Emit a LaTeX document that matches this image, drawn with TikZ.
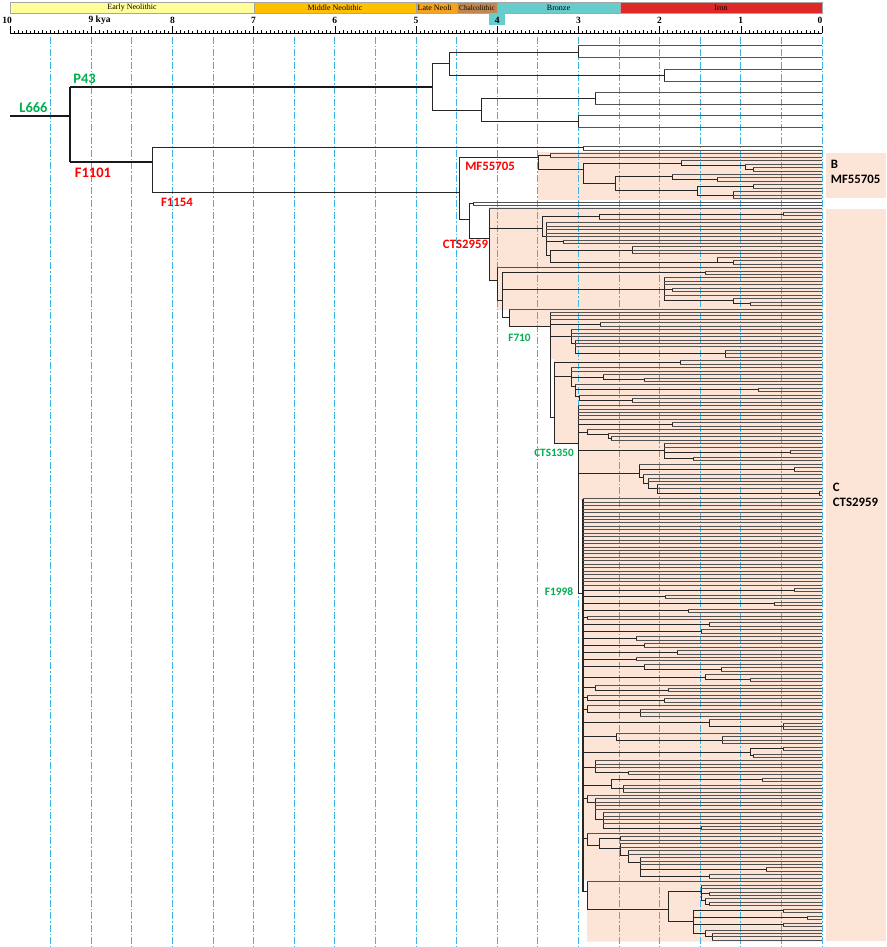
\documentclass[tikz,border=0pt]{standalone}
\usepackage{fontspec}
\setmainfont{Liberation Serif}
\newfontfamily\lab{Carlito}

\definecolor{eraEarly}{HTML}{FFFF99}
\definecolor{eraMiddle}{HTML}{FFC000}
\definecolor{eraLate}{HTML}{F5A31E}
\definecolor{eraChalco}{HTML}{C08850}
\definecolor{eraBronze}{HTML}{66CCCC}
\definecolor{eraIron}{HTML}{E02828}
\definecolor{peach}{HTML}{FCE4D6}
\definecolor{kyablue}{HTML}{3CB4E6}
\definecolor{snpgreen}{HTML}{00B050}
\definecolor{snpred}{HTML}{FF0000}

\tikzset{
  br/.style={line width=0.9pt, black!85},
  lf/.style={line width=0.7pt, black!68},
  rootbr/.style={line width=2.2pt, black!90},
  kyaline/.style={kyablue, line width=0.8pt, dash pattern=on 7pt off 2pt on 1.5pt off 2pt},
  era/.style={draw=gray!70, line width=0.4pt},
  eratxt/.style={font=\fontsize{8}{9}\selectfont, inner sep=0pt},
  axnum/.style={font=\bfseries\fontsize{9.5}{10}\selectfont, inner sep=0pt},
  snp/.style={font=\lab\bfseries\fontsize{#1}{#1}\selectfont, inner sep=0pt},
  boxlbl/.style={font=\lab\bfseries\fontsize{12.8}{13}\selectfont, inner sep=0pt, anchor=west}
}

\newcommand\xr{822}
\newcommand\tleaf[2]{\draw[lf] (#1,#2) -- (\xr,#2);}
\newcommand\tfan[3]{\draw[br] (#1,#2) -- (#1,#3); \foreach \k in {#2,...,#3}{\draw[lf] (#1,\k) -- (\xr,\k);}}
\newcommand\thor[3]{\draw[br] (#1,#3) -- (#2,#3);}
\newcommand\tver[3]{\draw[br] (#1,#2) -- (#1,#3);}
\newcommand\ttwig[5]{\draw[br] (#1,#3) -- (#2,#3); \tfan{#2}{#4}{#5}}

\begin{document}
\begin{tikzpicture}[x=1pt, y=-1pt]
\useasboundingbox (0,0) rectangle (886,947);

% shaded clades
\fill[peach] (538,152) rectangle (822,200);
\fill[peach] (489,207) -- (822,207) -- (822,941.5) -- (587,941.5) -- (587,880) -- (583,880)
  -- (583,500) -- (578,500) -- (578,443) -- (554,443) -- (554,359) -- (550,359) -- (550,326.7)
  -- (509,326.7) -- (509,310) -- (497,310) -- (497,281) -- (489,281) -- cycle;
\fill[peach] (826,153) rectangle (886,198.3);
\fill[peach] (826,209) rectangle (886,941);

% periods
\fill[eraEarly] (10,2.7) rectangle (254,13.3);
\fill[eraMiddle] (254,2.7) rectangle (416,13.3);
\fill[eraLate] (416,2.7) rectangle (457,13.3);
\fill[eraChalco] (457,2.7) rectangle (497,13.3);
\fill[eraBronze] (497,2.7) rectangle (620,13.3);
\fill[eraIron] (620,2.7) rectangle (822,13.3);
\draw[era] (10,2.7) rectangle (822,13.3);
\foreach \p in {254,416,457,497,620} \draw[era] (\p,2.7) -- (\p,13.3);
\fill[eraBronze] (489.3,13.3) rectangle (505.3,25);
\node[eratxt] (early) at (132,8) {Early Neolithic};
\node[eratxt] (middle) at (335,8) {Middle Neolithic};
\node[eratxt, anchor=west] (late) at (417.5,8) {Late Neoli};
\node[eratxt, font=\fontsize{7.3}{8}\selectfont] (chalco) at (477,8) {Chalcolithic};
\node[eratxt] (bronze) at (558.5,8) {Bronze};
\node[eratxt] (iron) at (721,8) {Iron};

% time axis
\draw[line width=0.8pt] (10,33.3) -- (822,33.3);
\foreach \s in {0,...,200}{
  \pgfmathsetmacro\h{ifthenelse(mod(\s,20)==0,7,ifthenelse(mod(\s,2)==0,3.5,1.8))}
  \draw[line width=0.5pt] ({10+4.06*\s},33.3) -- ++(0,-\h);
}
\node[axnum] (k10) at (7,20) {10};
\node[axnum, anchor=west] (k9) at (88.4,20) {9 kya};
\foreach \t in {8,...,1} \node[axnum] (k\t) at ({10+81.2*(10-\t)},20) {\t};
\node[axnum] (k0) at (820,20) {0};
\foreach \s in {1,...,20} \draw[kyaline] ({10+40.6*\s},37) -- ({10+40.6*\s},947);

% root and P43 clade
\draw[rootbr] (10,116) -- (70,116);
\draw[rootbr] (70,86.7) -- (70,162.3);
\draw[rootbr] (70,86.7) -- (432,86.7);
\draw[rootbr] (70,162.3) -- (152,162.3);
\tver{432}{63.3}{110}
\thor{432}{449}{63.3} \tver{449}{52}{75}
\thor{449}{578}{52} \draw[br] (578,45.7) -- (578,57.3);
\draw[lf] (578,45.7) -- (822,45.7) (578,57.3) -- (822,57.3);
\thor{449}{664}{75} \draw[br] (664,69.3) -- (664,81);
\draw[lf] (664,69.3) -- (822,69.3) (664,81) -- (822,81);
\thor{432}{481}{110} \tver{481}{98}{121.5}
\thor{481}{595}{98} \draw[br] (595,92.3) -- (595,104);
\draw[lf] (595,92.3) -- (822,92.3) (595,104) -- (822,104);
\thor{481}{578}{121.5} \draw[br] (578,115.7) -- (578,127.3);
\draw[lf] (578,115.7) -- (822,115.7) (578,127.3) -- (822,127.3);

% F1154 clade, one row per tip
\begin{scope}[y=-3.45pt, yshift=-146.7pt]
\tver{152}{0.3}{13.4}
\ttwig{152}{583}{0.3}{0}{1}
\thor{152}{459}{13.4}
\tver{459}{3.2}{21.2}
% B
\thor{459}{538}{3.2} \tver{538}{2.5}{6.5}
\ttwig{538}{550}{2.5}{2}{3}
\thor{538}{583}{6.5} \tver{583}{4.75}{10.75}
\thor{583}{681}{4.75} \tver{681}{4}{5.5} \tleaf{681}{4}
\thor{681}{745}{5.5} \tver{745}{5}{6.5} \tleaf{745}{5}
\ttwig{745}{753}{6.5}{6}{7}
\thor{583}{615}{10.75} \tver{615}{8.75}{12.75}
\thor{615}{672}{8.75} \tver{672}{8}{9.5} \tleaf{672}{8}
\ttwig{672}{717}{9.5}{9}{10}
\thor{615}{697}{12.75} \tver{697}{11.5}{14}
\ttwig{697}{753}{11.5}{11}{12}
\ttwig{697}{733}{14}{13}{15}
\thor{459}{469}{21.2} \tver{469}{16.5}{26.5}
\ttwig{469}{473}{16.5}{16}{17}
% C
\thor{469}{489}{26.5} \tver{489}{18}{38.8} \tleaf{489}{18}
\thor{489}{542}{23.7} \tver{542}{20.25}{26}
\thor{542}{599}{20.25} \tver{599}{19.5}{21} \tleaf{599}{21}
\ttwig{599}{783}{19.5}{19}{20}
\thor{542}{546}{26} \tver{546}{22}{31.5}
\tfan{546}{22}{26}
\ttwig{546}{563}{27.5}{27}{28}
\thor{546}{550}{31.5} \tver{550}{30}{33.5}
\ttwig{550}{632}{30}{29}{31}
\thor{550}{717}{33.5} \tver{717}{32}{33.5} \tleaf{717}{32}
\ttwig{717}{733}{33.5}{33}{34}
\thor{489}{497}{38.8} \tver{497}{35}{44.5} \tleaf{497}{35}
\thor{497}{502}{44.5} \tver{502}{36.5}{49.5}
\ttwig{502}{705}{36.5}{36}{37}
\thor{502}{664}{41.3} \tver{664}{38}{44.5}
\tfan{664}{38}{40}
\ttwig{664}{672}{41.5}{41}{42}
\tleaf{664}{43}
\thor{664}{733}{44.5} \tver{733}{44}{45.5} \tleaf{733}{44}
\ttwig{733}{750}{45.5}{45}{46}
% F710
\thor{502}{509}{49.5} \tver{509}{47}{52} \tleaf{509}{47}
\thor{509}{550}{52} \tver{550}{48}{78.4}
\tfan{550}{48}{50}
\ttwig{550}{600}{51.5}{51}{52}
\thor{550}{571}{55} \tver{571}{53}{57}
\tfan{571}{53}{55}
\thor{571}{575}{57} \tver{575}{56}{60}
\tfan{575}{56}{58}
\ttwig{575}{725}{60}{59}{61}
\thor{550}{554}{78.4} \tver{554}{62.5}{86}
\ttwig{554}{680}{62.5}{62}{63}
\thor{554}{571}{66.5} \tver{571}{64}{69.5}
\tfan{571}{64}{65}
\thor{571}{603}{66.75} \tver{603}{66}{67.5} \tleaf{603}{66}
\ttwig{603}{644}{67.5}{67}{68}
\thor{571}{575}{69.5} \tver{575}{69}{72.5} \tleaf{575}{69}
\ttwig{575}{758}{70.5}{70}{71}
\thor{575}{579}{72.5} \tver{579}{72}{73.5} \tleaf{579}{72}
\ttwig{579}{632}{73.5}{73}{74}
% CTS1350
\thor{554}{578}{86} \tver{578}{75}{129.5}
\tfan{578}{75}{79}
\ttwig{578}{672}{80.5}{80}{81}
\thor{578}{587}{82.75} \tver{587}{82}{83.5} \tleaf{587}{82}
\thor{587}{608}{83.5} \tver{608}{83}{84.5} \tleaf{608}{83}
\ttwig{608}{611}{84.5}{84}{85}
\thor{578}{664}{88} \tver{664}{86}{90.5}
\tfan{664}{86}{87}
\ttwig{664}{790}{88.5}{88}{89}
\ttwig{664}{693}{90.5}{90}{91}
\thor{578}{639}{94.7} \tver{639}{92}{96} \tleaf{639}{92}
\ttwig{639}{794}{93.5}{93}{94}
\thor{639}{643}{96} \tver{643}{95}{97.5} \tleaf{643}{95}
\thor{643}{648}{97.5} \tver{648}{96}{99}
\tfan{648}{96}{97}
\thor{648}{657}{99} \tver{657}{98}{100.5}
\tfan{657}{98}{99}
\ttwig{657}{819}{100.5}{100}{101}
% F1998
\thor{578}{583}{129.5}
\draw[line width=1.6pt, black!85] (583,102) -- (583,216);
\tfan{583}{102}{127}
\foreach \x/\j in {794/128,665/130,774/132,688/134,587/136,709/138,701/140,636/142,644/144,677/146,636/148}{
  \draw[br] (583,\j+.5) -- (\x,\j+.5) (\x,\j) -- (\x,\j+1);
  \draw[lf] (\x,\j) -- (\xr,\j) (\x,\j+1) -- (\xr,\j+1);
}
\thor{583}{644}{150.75} \tver{644}{150}{151.5} \tleaf{644}{150}
\ttwig{644}{721}{151.5}{151}{152}
\thor{583}{705}{153.75} \tver{705}{153}{154.5} \tleaf{705}{153}
\ttwig{705}{750}{154.5}{154}{155}
\thor{583}{595}{156.75} \tver{595}{156}{157.5} \tleaf{595}{156}
\ttwig{595}{668}{157.5}{157}{158}
\thor{583}{587}{159.75} \tver{587}{159}{160.5} \tleaf{587}{159}
\ttwig{587}{664}{160.5}{160}{161}
\thor{583}{587}{163} \tver{587}{162}{164} \tleaf{587}{162}
\ttwig{587}{640}{164}{163}{165}
\thor{583}{709}{167} \tver{709}{166}{168} \tleaf{709}{166}
\ttwig{709}{783}{168}{167}{169}
\thor{583}{616}{171} \tver{616}{170}{172} \tleaf{616}{170}
\ttwig{616}{722}{172}{171}{173}
\thor{583}{750}{175.5} \tver{750}{174.5}{176.5}
\ttwig{750}{783}{174.5}{174}{175}
\ttwig{750}{753}{176.5}{176}{177}
\thor{583}{595}{180} \tver{595}{178}{181.5}
\tfan{595}{178}{180}
\ttwig{595}{628}{181.5}{181}{182}
\thor{583}{611}{185} \tver{611}{183.5}{186}
\ttwig{611}{762}{183.5}{183}{184}
\ttwig{611}{623}{186}{185}{187}
\thor{583}{587}{189} \tver{587}{188}{190} \tleaf{587}{188}
\thor{587}{595}{190} \tver{595}{189}{195}
\tfan{595}{189}{192}
\thor{595}{603}{195} \tver{603}{193}{197.5}
\tfan{603}{193}{196}
\ttwig{603}{701}{197.5}{197}{198}
\thor{583}{587}{200.5} \tver{587}{199}{202.5} \tleaf{587}{199}
\thor{587}{599}{202.5} \tver{599}{200.5}{203.5}
\ttwig{599}{620}{200.5}{200}{201}
\thor{599}{620}{203.5} \tver{620}{202}{205.5}
\tfan{620}{202}{203}
\thor{620}{628}{205.5} \tver{628}{204}{207.5}
\tfan{628}{204}{205}
\thor{628}{640}{207.5} \tver{640}{206}{211.5}
\tfan{640}{206}{208}
\ttwig{640}{766}{209.5}{209}{210}
\ttwig{640}{709}{211.5}{211}{212}
\thor{583}{587}{216} \tver{587}{213}{221} \tleaf{587}{213}
\thor{587}{668}{221} \tver{668}{216}{224.5}
\thor{668}{701}{216} \tver{701}{214}{218.5}
\tfan{701}{214}{215}
\ttwig{701}{709}{216.5}{216}{217}
\thor{701}{705}{218.5} \tver{705}{218}{219.5} \tleaf{705}{218}
\ttwig{705}{709}{219.5}{219}{220}
\thor{668}{693}{224.5} \tver{693}{221.5}{228}
\ttwig{693}{783}{221.5}{221}{222}
\ttwig{693}{807}{223.5}{223}{224}
\ttwig{693}{783}{225.5}{225}{226}
\thor{693}{705}{228} \tver{705}{227}{229} \tleaf{705}{227}
\ttwig{705}{712}{229}{228}{230}
\end{scope}

% SNP labels
\node[snp=14.5, snpgreen] (l666) at (33.5,108) {L666};
\node[snp=14.5, snpgreen] (p43) at (84.5,78.5) {P43};
\node[snp=14.5, snpred] (f1101) at (93,172.5) {F1101};
\node[snp=12.8, snpred] (f1154) at (177,202.5) {F1154};
\node[snp=12.8, snpred] (mf55705) at (490,166.5) {MF55705};
\node[snp=12.8, snpred] (cts2959) at (465.5,244.5) {CTS2959};
\node[snp=11.3, snpgreen] (f710) at (519.5,337.5) {F710};
\node[snp=11.2, snpgreen] (cts1350) at (554,453) {CTS1350};
\node[snp=11.4, snpgreen] (f1998) at (559,591.5) {F1998};

% clade boxes
\node[boxlbl] (cladeB) at (830.7,164.5) {B};
\node[boxlbl] (cladeBsnp) at (830.7,179.5) {MF55705};
\node[boxlbl] (cladeC) at (832.7,487) {C};
\node[boxlbl] (cladeCsnp) at (832.7,502.5) {CTS2959};
\end{tikzpicture}
\end{document}
